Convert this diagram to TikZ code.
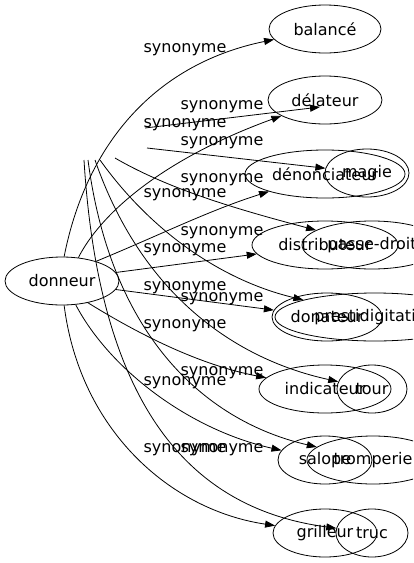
\documentclass[tikz,border=0pt]{standalone}
\usepackage{fontspec}
\setmainfont{DejaVu Sans}
\usetikzlibrary{arrows.meta, shapes.geometric}

\begin{document}
\begin{tikzpicture}[
  x=1pt, y=-1pt,
  font=\fontsize{16}{19}\selectfont,
  word/.style={
    draw,
    ellipse,
    line width=0.8pt,
    inner sep=0pt,
    minimum height=48pt
  },
  lbl/.style={
    inner sep=0pt
  },
  syn/.style={
    draw,
    -{Triangle[length=10pt, width=7pt]},
    line width=0.8pt
  }
]
\useasboundingbox (0,0) rectangle (413,563);
\clip (0,0) rectangle (413,563);

% Source word
\node[word, minimum width=114pt] (donneur) at (62,281) {donneur};

% First column of synonyms
\node[word, minimum width=112pt] (balance) at (325,29) {balancé};
\node[word, minimum width=114pt] (delateur) at (325,100) {délateur};
\node[word, minimum width=160pt] (denonciateur) at (325,174) {dénonciateur};
\node[word, minimum width=146pt] (distributeur) at (325,245) {distributeur};
\node[word, minimum width=110pt] (donateur) at (327,317) {donateur};
\node[word, minimum width=132pt] (indicateur) at (325,389) {indicateur};
\node[word, minimum width=94pt] (salope) at (325,460) {salope};
\node[word, minimum width=104pt] (grilleur) at (325,533) {grilleur};

% Second column, drawn over the first
\node[word, minimum width=84pt] (magie) at (367,173) {magie};
\node[word, minimum width=140pt] (passe) at (372,245) {passe-droit};
\node[word, minimum width=200pt] (presti) at (375,317) {prestidigitation};
\node[word, minimum width=70pt] (tour) at (372,389) {tour};
\node[word, minimum width=132pt] (tromperie) at (373,460) {tromperie};
\node[word, minimum width=72pt] (truc) at (372,533) {truc};

% Loose ends of the second fan
\coordinate (s1) at (145,128);
\coordinate (s2) at (147,148);
\coordinate (s3) at (115,158);
\coordinate (s4) at (100,160);
\coordinate (s5) at (95,160);
\coordinate (s6) at (88,160);
\coordinate (s7) at (84,160);
\coordinate (t1) at (320,107);

% Edges from donneur
\draw[syn] (donneur.85) .. controls (85,150) and (150,65) .. (balance);
\draw[syn] (donneur.55) .. controls (100,215) and (160,160) .. (delateur);
\draw[syn] (donneur.30) .. controls (160,235) and (210,210) .. (denonciateur);
\draw[syn] (donneur.9) -- (distributeur);
\draw[syn] (donneur.-9) -- (donateur);
\draw[syn] (donneur.-40) .. controls (140,335) and (200,365) .. (indicateur);
\draw[syn] (donneur.-60) .. controls (110,370) and (190,430) .. (salope);
\draw[syn] (donneur.-85) .. controls (80,430) and (170,510) .. (grilleur);

% Second fan
\draw[syn] (s1) -- (t1);
\draw[syn] (s2) -- (magie);
\draw[syn] (s3) .. controls (170,190) and (240,210) .. (passe);
\draw[syn] (s4) .. controls (150,230) and (220,280) .. (presti);
\draw[syn] (s5) .. controls (140,290) and (230,358) .. (tour);
\draw[syn] (s6) .. controls (110,330) and (200,420) .. (tromperie);
\draw[syn] (s7) .. controls (100,420) and (200,510) .. (truc);

% Edge labels
\foreach \y [count=\i] in {50,125,195,250,288,326,383,450}
  \node[lbl] (la\i) at (185,\y) {synonyme};
\foreach \y [count=\i] in {107,143,180,233,299,373,450}
  \node[lbl] (lb\i) at (222,\y) {synonyme};

\end{tikzpicture}
\end{document}
